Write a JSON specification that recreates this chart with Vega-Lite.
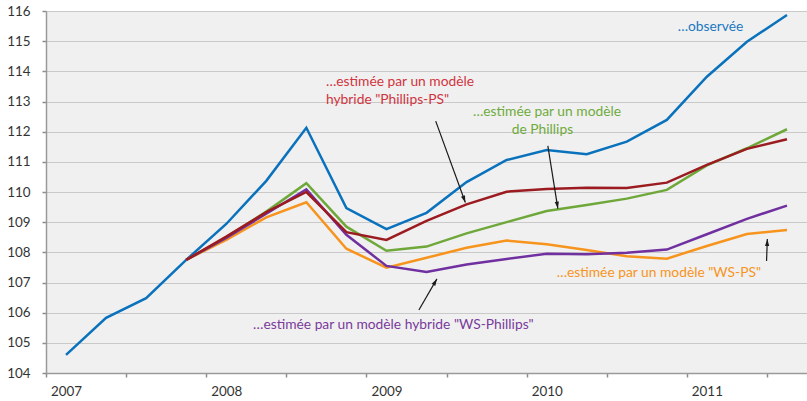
{
  "$schema": "https://vega.github.io/schema/vega-lite/v6.json",
  "width": 761,
  "height": 362,
  "autosize": {"type": "none"},
  "padding": {"left": 46, "top": 11, "right": 0, "bottom": 28},
  "background": "white",
  "config": {
    "view": {"fill": "#f0f0f0", "stroke": null},
    "font": "Lato"
  },
  "datasets": {
    "series": [
      {"annee": 2007.0, "serie": "observée", "valeur": 104.60},
      {"annee": 2007.25, "serie": "observée", "valeur": 105.83},
      {"annee": 2007.5, "serie": "observée", "valeur": 106.48},
      {"annee": 2007.75, "serie": "observée", "valeur": 107.75},
      {"annee": 2008.0, "serie": "observée", "valeur": 108.94},
      {"annee": 2008.25, "serie": "observée", "valeur": 110.37},
      {"annee": 2008.5, "serie": "observée", "valeur": 112.13},
      {"annee": 2008.75, "serie": "observée", "valeur": 109.47},
      {"annee": 2009.0, "serie": "observée", "valeur": 108.77},
      {"annee": 2009.25, "serie": "observée", "valeur": 109.31},
      {"annee": 2009.5, "serie": "observée", "valeur": 110.33},
      {"annee": 2009.75, "serie": "observée", "valeur": 111.06},
      {"annee": 2010.0, "serie": "observée", "valeur": 111.39},
      {"annee": 2010.25, "serie": "observée", "valeur": 111.25},
      {"annee": 2010.5, "serie": "observée", "valeur": 111.67},
      {"annee": 2010.75, "serie": "observée", "valeur": 112.39},
      {"annee": 2011.0, "serie": "observée", "valeur": 113.82},
      {"annee": 2011.25, "serie": "observée", "valeur": 114.98},
      {"annee": 2011.5, "serie": "observée", "valeur": 115.87},

      {"annee": 2007.75, "serie": "WS-PS", "valeur": 107.75},
      {"annee": 2008.0, "serie": "WS-PS", "valeur": 108.41},
      {"annee": 2008.25, "serie": "WS-PS", "valeur": 109.16},
      {"annee": 2008.5, "serie": "WS-PS", "valeur": 109.66},
      {"annee": 2008.75, "serie": "WS-PS", "valeur": 108.12},
      {"annee": 2009.0, "serie": "WS-PS", "valeur": 107.49},
      {"annee": 2009.25, "serie": "WS-PS", "valeur": 107.82},
      {"annee": 2009.5, "serie": "WS-PS", "valeur": 108.15},
      {"annee": 2009.75, "serie": "WS-PS", "valeur": 108.39},
      {"annee": 2010.0, "serie": "WS-PS", "valeur": 108.27},
      {"annee": 2010.25, "serie": "WS-PS", "valeur": 108.08},
      {"annee": 2010.5, "serie": "WS-PS", "valeur": 107.87},
      {"annee": 2010.75, "serie": "WS-PS", "valeur": 107.79},
      {"annee": 2011.0, "serie": "WS-PS", "valeur": 108.21},
      {"annee": 2011.25, "serie": "WS-PS", "valeur": 108.61},
      {"annee": 2011.5, "serie": "WS-PS", "valeur": 108.74},

      {"annee": 2007.75, "serie": "Phillips", "valeur": 107.75},
      {"annee": 2008.0, "serie": "Phillips", "valeur": 108.50},
      {"annee": 2008.25, "serie": "Phillips", "valeur": 109.35},
      {"annee": 2008.5, "serie": "Phillips", "valeur": 110.29},
      {"annee": 2008.75, "serie": "Phillips", "valeur": 108.85},
      {"annee": 2009.0, "serie": "Phillips", "valeur": 108.05},
      {"annee": 2009.25, "serie": "Phillips", "valeur": 108.19},
      {"annee": 2009.5, "serie": "Phillips", "valeur": 108.63},
      {"annee": 2009.75, "serie": "Phillips", "valeur": 109.00},
      {"annee": 2010.0, "serie": "Phillips", "valeur": 109.37},
      {"annee": 2010.25, "serie": "Phillips", "valeur": 109.57},
      {"annee": 2010.5, "serie": "Phillips", "valeur": 109.78},
      {"annee": 2010.75, "serie": "Phillips", "valeur": 110.07},
      {"annee": 2011.0, "serie": "Phillips", "valeur": 110.88},
      {"annee": 2011.25, "serie": "Phillips", "valeur": 111.45},
      {"annee": 2011.5, "serie": "Phillips", "valeur": 112.08},

      {"annee": 2007.75, "serie": "WS-Phillips", "valeur": 107.75},
      {"annee": 2008.0, "serie": "WS-Phillips", "valeur": 108.48},
      {"annee": 2008.25, "serie": "WS-Phillips", "valeur": 109.28},
      {"annee": 2008.5, "serie": "WS-Phillips", "valeur": 110.09},
      {"annee": 2008.75, "serie": "WS-Phillips", "valeur": 108.58},
      {"annee": 2009.0, "serie": "WS-Phillips", "valeur": 107.55},
      {"annee": 2009.25, "serie": "WS-Phillips", "valeur": 107.35},
      {"annee": 2009.5, "serie": "WS-Phillips", "valeur": 107.60},
      {"annee": 2009.75, "serie": "WS-Phillips", "valeur": 107.78},
      {"annee": 2010.0, "serie": "WS-Phillips", "valeur": 107.95},
      {"annee": 2010.25, "serie": "WS-Phillips", "valeur": 107.94},
      {"annee": 2010.5, "serie": "WS-Phillips", "valeur": 107.99},
      {"annee": 2010.75, "serie": "WS-Phillips", "valeur": 108.09},
      {"annee": 2011.0, "serie": "WS-Phillips", "valeur": 108.60},
      {"annee": 2011.25, "serie": "WS-Phillips", "valeur": 109.11},
      {"annee": 2011.5, "serie": "WS-Phillips", "valeur": 109.55},

      {"annee": 2007.75, "serie": "Phillips-PS", "valeur": 107.75},
      {"annee": 2008.0, "serie": "Phillips-PS", "valeur": 108.52},
      {"annee": 2008.25, "serie": "Phillips-PS", "valeur": 109.33},
      {"annee": 2008.5, "serie": "Phillips-PS", "valeur": 110.00},
      {"annee": 2008.75, "serie": "Phillips-PS", "valeur": 108.67},
      {"annee": 2009.0, "serie": "Phillips-PS", "valeur": 108.41},
      {"annee": 2009.25, "serie": "Phillips-PS", "valeur": 109.04},
      {"annee": 2009.5, "serie": "Phillips-PS", "valeur": 109.59},
      {"annee": 2009.75, "serie": "Phillips-PS", "valeur": 110.01},
      {"annee": 2010.0, "serie": "Phillips-PS", "valeur": 110.10},
      {"annee": 2010.25, "serie": "Phillips-PS", "valeur": 110.14},
      {"annee": 2010.5, "serie": "Phillips-PS", "valeur": 110.13},
      {"annee": 2010.75, "serie": "Phillips-PS", "valeur": 110.31},
      {"annee": 2011.0, "serie": "Phillips-PS", "valeur": 110.90},
      {"annee": 2011.25, "serie": "Phillips-PS", "valeur": 111.43},
      {"annee": 2011.5, "serie": "Phillips-PS", "valeur": 111.75}
    ],
    "notes": [
      {"annee": 2010.8175, "valeur": 115.47, "serie": "observée", "texte": "…observée"},
      {"annee": 2008.6225, "valeur": 113.65, "serie": "Phillips-PS", "texte": "…estimée par un modèle"},
      {"annee": 2008.6225, "valeur": 113.05, "serie": "Phillips-PS", "texte": "hybride \"Phillips-PS\""},
      {"annee": 2009.54, "valeur": 112.65, "serie": "Phillips", "texte": "…estimée par un modèle"},
      {"annee": 2009.7825, "valeur": 112.06, "serie": "Phillips", "texte": "de Phillips"},
      {"annee": 2008.1675, "valeur": 105.59, "serie": "WS-Phillips", "texte": "…estimée par un modèle hybride \"WS-Phillips\""},
      {"annee": 2010.0625, "valeur": 107.32, "serie": "WS-PS", "texte": "…estimée par un modèle \"WS-PS\""}
    ],
    "fleches": [
      {"id": "Phillips-PS", "annee": 2009.3075, "valeur": 112.35, "annee2": 2009.4925, "valeur2": 109.65},
      {"id": "Phillips", "annee": 2010.0075, "valeur": 111.53, "annee2": 2010.07, "valeur2": 109.45},
      {"id": "WS-Phillips", "annee": 2009.2025, "valeur": 106.09, "annee2": 2009.315, "valeur2": 107.12},
      {"id": "WS-PS", "annee": 2011.3725, "valeur": 107.71, "annee2": 2011.3775, "valeur2": 108.44}
    ]
  },
  "encoding": {
    "x": {
      "field": "annee",
      "type": "quantitative",
      "scale": {"domain": [2006.875, 2011.625], "nice": false, "zero": false},
      "axis": {
        "title": null,
        "grid": false,
        "values": [2006.875, 2007, 2007.375, 2007.875, 2008, 2008.375, 2008.875, 2009, 2009.375, 2009.875, 2010, 2010.375, 2010.875, 2011, 2011.375],
        "labelExpr": "datum.value % 1 == 0 ? format(datum.value, 'd') : ''",
        "tickOpacity": {"condition": {"test": "datum.value % 1 == 0", "value": 0}, "value": 1},
        "tickSize": 4,
        "tickWidth": 1.5,
        "tickColor": "#8c8c8c",
        "domainColor": "#9a9a9a",
        "domainWidth": 1.5,
        "labelFontSize": 13.4,
        "labelColor": "#333333",
        "labelPadding": 7,
        "labelFont": "Lato"
      }
    },
    "y": {
      "field": "valeur",
      "type": "quantitative",
      "scale": {"domain": [104, 116], "nice": false, "zero": false},
      "axis": {
        "title": null,
        "values": [104, 105, 106, 107, 108, 109, 110, 111, 112, 113, 114, 115, 116],
        "grid": true,
        "gridColor": "#c9c9c9",
        "gridWidth": 1,
        "tickSize": 4,
        "tickWidth": 1.5,
        "tickColor": "#8c8c8c",
        "domainColor": "#9a9a9a",
        "domainWidth": 1.5,
        "labelFontSize": 13.4,
        "labelColor": "#333333",
        "labelPadding": 12,
        "labelFont": "Lato"
      }
    }
  },
  "layer": [
    {
      "data": {"name": "series"},
      "mark": {"type": "line", "strokeWidth": 2.5, "strokeJoin": "miter"},
      "encoding": {
        "color": {
          "field": "serie",
          "type": "nominal",
          "scale": {
            "domain": ["observée", "WS-PS", "Phillips", "WS-Phillips", "Phillips-PS"],
            "range": ["#0a72bc", "#f7941d", "#6fa83a", "#7030a0", "#9b1b20"]
          },
          "legend": null
        }
      }
    },
    {
      "data": {"name": "fleches"},
      "mark": {"type": "rule", "color": "#1a1a1a", "strokeWidth": 1.2},
      "encoding": {
        "x2": {"field": "annee2"},
        "y2": {"field": "valeur2"}
      }
    },
    {
      "data": {"name": "fleches"},
      "transform": [{"filter": "datum.id == 'Phillips-PS'"}],
      "mark": {"type": "point", "shape": "M0,0L-0.7,2.3L0.7,2.3Z", "filled": true, "opacity": 1, "color": "#1a1a1a", "size": 36, "angle": 160},
      "encoding": {"x": {"field": "annee2", "type": "quantitative"}, "y": {"field": "valeur2", "type": "quantitative"}}
    },
    {
      "data": {"name": "fleches"},
      "transform": [{"filter": "datum.id == 'Phillips'"}],
      "mark": {"type": "point", "shape": "M0,0L-0.7,2.3L0.7,2.3Z", "filled": true, "opacity": 1, "color": "#1a1a1a", "size": 36, "angle": 171},
      "encoding": {"x": {"field": "annee2", "type": "quantitative"}, "y": {"field": "valeur2", "type": "quantitative"}}
    },
    {
      "data": {"name": "fleches"},
      "transform": [{"filter": "datum.id == 'WS-Phillips'"}],
      "mark": {"type": "point", "shape": "M0,0L-0.7,2.3L0.7,2.3Z", "filled": true, "opacity": 1, "color": "#1a1a1a", "size": 36, "angle": 30},
      "encoding": {"x": {"field": "annee2", "type": "quantitative"}, "y": {"field": "valeur2", "type": "quantitative"}}
    },
    {
      "data": {"name": "fleches"},
      "transform": [{"filter": "datum.id == 'WS-PS'"}],
      "mark": {"type": "point", "shape": "M0,0L-0.7,2.3L0.7,2.3Z", "filled": true, "opacity": 1, "color": "#1a1a1a", "size": 36, "angle": 2},
      "encoding": {"x": {"field": "annee2", "type": "quantitative"}, "y": {"field": "valeur2", "type": "quantitative"}}
    },
    {
      "data": {"name": "notes"},
      "mark": {"type": "text", "align": "left", "baseline": "middle", "fontSize": 13.8, "font": "Lato"},
      "encoding": {
        "text": {"field": "texte"},
        "color": {
          "field": "serie",
          "type": "nominal",
          "scale": {
            "domain": ["observée", "WS-PS", "Phillips", "WS-Phillips", "Phillips-PS"],
            "range": ["#1b78c2", "#f7941d", "#6fab3c", "#7a3a9c", "#d1343e"]
          },
          "legend": null
        }
      }
    }
  ],
  "resolve": {"scale": {"color": "independent"}}
}
